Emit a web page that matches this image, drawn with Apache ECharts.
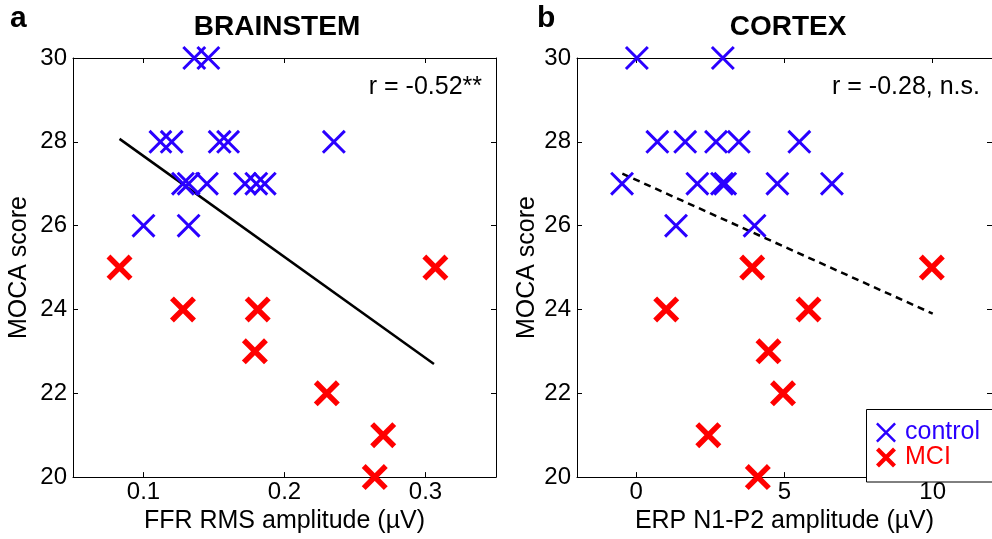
<!DOCTYPE html>
<html>
<head>
<meta charset="utf-8">
<script src="https://cdn.jsdelivr.net/npm/echarts@6/dist/echarts.min.js"></script>
<style>
html,body{margin:0;padding:0;background:#fff;}
#c{width:992px;height:539px;}
</style>
</head>
<body>
<div id="c"></div>
<script>
// ---- Data ----
const ffrControl  = [0.136, 0.146, 0.112, 0.120, 0.154, 0.160, 0.235, 0.128, 0.132, 0.145, 0.172, 0.180, 0.186, 0.100, 0.132];
const mocaControlA = [30, 30, 28, 28, 28, 28, 28, 27, 27, 27, 27, 27, 27, 26, 26];
const ffrMCI      = [0.083, 0.307, 0.128, 0.181, 0.179, 0.230, 0.270, 0.264];
const mocaMCIA    = [25, 25, 24, 24, 23, 22, 21, 20];

const erpControl  = [0.02, 2.92, 0.71, 1.65, 2.69, 3.46, 5.5, -0.48, 2.06, 2.89, 3.0, 4.76, 6.6, 1.34, 3.99];
const mocaControlB = [30, 30, 28, 28, 28, 28, 28, 27, 27, 27, 27, 27, 27, 26, 26];
const erpMCI      = [3.91, 9.97, 1.01, 5.81, 4.46, 4.95, 2.43, 4.1];
const mocaMCIB    = [25, 25, 24, 24, 23, 22, 21, 20];

const fitA_x = [0.083, 0.306];
const fitA_y = [28.07, 22.70];
const fitB_x = [-0.47, 10.0];
const fitB_y = [27.24, 23.9];

const ffrTicks = [0.1, 0.2, 0.3];
const erpTicks = [0, 5, 10];
const titles = ['BRAINSTEM', 'CORTEX'];
const panelLetters = ['a', 'b'];
const rTexts = ['r = -0.52**', 'r = -0.28, n.s.'];
const xNames = ['FFR RMS amplitude (\u00b5V)', 'ERP N1-P2 amplitude (\u00b5V)'];
const yName = 'MOCA score';

// ---- Styling ----
const BLUE = '#2a00ff';
const RED = '#ff0000';
const FONT = '"Liberation Sans", Arial, Helvetica, sans-serif';
const blueX = 'path://M4.85 -4.85 L104.85 95.15 L95.15 104.85 L-4.85 4.85 Z M95.15 -4.85 L104.85 4.85 L4.85 104.85 L-4.85 95.15 Z';
const redX = 'path://M8.79 -8.79 L108.79 91.21 L91.21 108.79 L-8.79 8.79 Z M91.21 -8.79 L108.79 8.79 L8.79 108.79 L-8.79 91.21 Z';

const zip = (a, b) => a.map((v, i) => [v, b[i]]);

const grids = [
  {left: 73, top: 58, width: 423, height: 424},
  {left: 577, top: 58, width: 423, height: 424}
];
const xRanges = [[0.05, 0.35], [-2, 12]];
const xTickSets = [ffrTicks, erpTicks];
const yGaps = [41, 37];

const xAxes = [], yAxes = [];
[0, 1].forEach(g => {
  xAxes.push({
    gridIndex: g, type: 'value', position: 'bottom',
    min: xRanges[g][0], max: xRanges[g][1],
    name: xNames[g], nameLocation: 'middle', nameGap: 30,
    nameTextStyle: {fontSize: 25, color: '#000', fontFamily: FONT},
    axisLine: {show: true, onZero: false, lineStyle: {color: '#000', width: 1}},
    axisTick: {show: true, inside: true, length: 5, customValues: xTickSets[g], lineStyle: {color: '#000'}},
    axisLabel: {show: true, fontSize: 24, color: '#000', fontFamily: FONT, margin: 3, customValues: xTickSets[g]},
    splitLine: {show: false}
  });
  xAxes.push({
    gridIndex: g, type: 'value', position: 'top',
    min: xRanges[g][0], max: xRanges[g][1],
    axisLine: {show: true, onZero: false, lineStyle: {color: '#000', width: 1}},
    axisTick: {show: true, inside: true, length: 5, customValues: xTickSets[g], lineStyle: {color: '#000'}},
    axisLabel: {show: false, customValues: xTickSets[g]},
    splitLine: {show: false}
  });
  yAxes.push({
    gridIndex: g, type: 'value', position: 'left',
    min: 20, max: 30, interval: 2,
    name: yName, nameLocation: 'middle', nameGap: yGaps[g],
    nameTextStyle: {fontSize: 25, color: '#000', fontFamily: FONT},
    axisLine: {show: true, onZero: false, lineStyle: {color: '#000', width: 1}},
    axisTick: {show: true, inside: true, length: 5, lineStyle: {color: '#000'}},
    axisLabel: {show: true, fontSize: 24, color: '#000', fontFamily: FONT, margin: 6},
    splitLine: {show: false}
  });
  yAxes.push({
    gridIndex: g, type: 'value', position: 'right',
    min: 20, max: 30, interval: 2,
    axisLine: {show: true, onZero: false, lineStyle: {color: '#000', width: 1}},
    axisTick: {show: true, inside: true, length: 5, lineStyle: {color: '#000'}},
    axisLabel: {show: false},
    splitLine: {show: false}
  });
});

function scatter(name, data, xi, yi, sym, size, color) {
  return {
    type: 'scatter', name: name, xAxisIndex: xi, yAxisIndex: yi,
    data: data, symbol: sym, symbolSize: size,
    itemStyle: {color: color, opacity: 1},
    emphasis: {disabled: true}, z: 3
  };
}
function fitLine(xs, ys, xi, yi, dashed) {
  return {
    type: 'line', xAxisIndex: xi, yAxisIndex: yi,
    data: zip(xs, ys), symbol: 'none', silent: true,
    lineStyle: {color: '#000', width: 2.5, type: dashed ? [7, 5] : 'solid'},
    z: 2
  };
}

const option = {
  animation: false,
  backgroundColor: '#fff',
  textStyle: {fontFamily: FONT},
  grid: grids,
  xAxis: xAxes,
  yAxis: yAxes,
  legend: {
    orient: 'vertical', left: 866, top: 409,
    padding: [11, 10, 12, 10], itemGap: 0,
    itemWidth: 28, itemHeight: 20,
    backgroundColor: 'transparent', borderWidth: 0,
    textStyle: {fontSize: 25, fontFamily: FONT},
    data: [
      {name: 'control', textStyle: {color: BLUE}},
      {name: 'MCI', textStyle: {color: RED}}
    ],
    selectedMode: false,
    z: 10
  },
  graphic: [
    {type: 'rect', z: 5, shape: {x: 866.5, y: 409.5, width: 160, height: 72.5},
     style: {fill: '#fff', stroke: '#000', lineWidth: 1}},
    {type: 'text', left: 10, top: 4, style: {text: panelLetters[0], font: 'bold 30px ' + FONT, fill: '#000'}},
    {type: 'text', left: 537, top: 4, style: {text: panelLetters[1], font: 'bold 30px ' + FONT, fill: '#000'}},
    {type: 'text', x: 277, y: 27, style: {text: titles[0], font: 'bold 28px ' + FONT, fill: '#000', align: 'center', verticalAlign: 'middle'}},
    {type: 'text', x: 788, y: 27, style: {text: titles[1], font: 'bold 28px ' + FONT, fill: '#000', align: 'center', verticalAlign: 'middle'}},
    {type: 'text', x: 482, y: 87, style: {text: rTexts[0], font: '25px ' + FONT, fill: '#000', align: 'right', verticalAlign: 'middle'}},
    {type: 'text', x: 980, y: 87, style: {text: rTexts[1], font: '25px ' + FONT, fill: '#000', align: 'right', verticalAlign: 'middle'}}
  ],
  series: [
    fitLine(fitA_x, fitA_y, 0, 0, false),
    scatter('control', zip(ffrControl, mocaControlA), 0, 0, blueX, 24, BLUE),
    scatter('MCI', zip(ffrMCI, mocaMCIA), 0, 0, redX, 26, RED),
    fitLine(fitB_x, fitB_y, 2, 2, true),
    scatter('control', zip(erpControl, mocaControlB), 2, 2, blueX, 24, BLUE),
    scatter('MCI', zip(erpMCI, mocaMCIB), 2, 2, redX, 26, RED)
  ]
};

const chart = echarts.init(document.getElementById('c'), null, {renderer: 'canvas'});
chart.setOption(option);
</script>
</body>
</html>
